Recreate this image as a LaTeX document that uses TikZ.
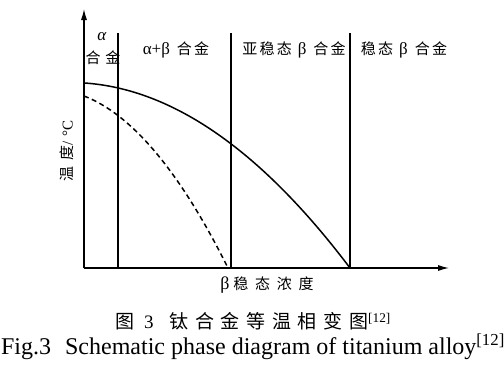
\documentclass[tikz,border=0pt]{standalone}
\usepackage{fontspec}
\setmainfont{Liberation Serif}
\newfontfamily\cjka{Noto Sans CJK SC}[LetterSpace=15]
\newfontfamily\cjkb{Noto Sans CJK SC}[LetterSpace=45]
\newfontfamily\cjkc{Noto Sans CJK SC}[LetterSpace=35]
\newcommand{\gk}[1]{{\fontsize{17}{19}\selectfont #1}}
\usetikzlibrary{arrows.meta}
\begin{document}
\begin{tikzpicture}[x=1pt,y=-1pt,
  ax/.style={line width=1.2pt,-{Latex[length=11pt,width=6pt]}},
  vline/.style={line width=1.5pt},
  curve/.style={line width=1.5pt},
  dcurve/.style={line width=1.5pt,dash pattern=on 5pt off 3.5pt},
  lab/.style={inner sep=0pt,font=\fontsize{15}{17}\selectfont},
  axlab/.style={inner sep=0pt,font=\fontsize{15}{17}\selectfont},
  zhcap/.style={inner sep=0pt,font=\fontsize{19}{22}\selectfont},
  encap/.style={inner sep=0pt,font=\fontsize{24}{28}\selectfont},
]
\useasboundingbox (0,0) rectangle (504,370);
% axes
\coordinate (O) at (84,268);
\coordinate (ytip) at (84,9);
\coordinate (xtip) at (449,268);
\draw[ax] (O) -- (ytip);
\draw[ax] (O) -- (xtip);
% vertical phase boundaries
\coordinate (v1t) at (118,33); \coordinate (v1b) at (118,268);
\coordinate (v2t) at (231,33); \coordinate (v2b) at (231,268);
\coordinate (v3t) at (350,33); \coordinate (v3b) at (350,268);
\draw[vline] (v1t) -- (v1b);
\draw[vline] (v2t) -- (v2b);
\draw[vline] (v3t) -- (v3b);
% beta transus (solid) and martensite start (dashed)
\draw[curve] plot[domain=84:350,samples=80] (\x,{268-185.5*(1-((\x-70)/280)^2)});
\draw[dcurve] plot[domain=84:228,samples=80] (\x,{268-178.5*(1-((\x-50)/178)^2)});
% region labels
\node[lab] (la1) at (102,37) {\gk{\textit{α}}};
\node[lab] (la2) at (103,58) {{\cjka 合}\hspace{5pt}{\cjka 金}};
\node[lab] (lab2) at (176,50) {\gk{α+β}\hspace{7pt}{\cjka 合金}};
\node[lab] (lab3) at (294,50) {{\cjka 亚稳态}\hspace{6pt}\gk{β}\hspace{7pt}{\cjka 合金}};
\node[lab] (lab4) at (404,50) {{\cjka 稳态}\hspace{6pt}\gk{β}\hspace{7pt}{\cjka 合金}};
% axis labels
\node[axlab,rotate=90] (ylab) at (67,151) {{\cjkb 温度}/\hspace{5pt}°C};
\node[axlab] (xlab) at (267,285) {{\fontsize{18}{20}\selectfont β}\hspace{4pt}{\cjkb 稳态浓度}};
% captions
\node[zhcap] (cap1) at (253,321) {{\cjkc 图}\hspace{10pt}3\hspace{16pt}{\cjkc 钛合金等温相变图}\textsuperscript{[12]}};
\node[encap] (cap2) at (253,347) {Fig.3\hspace{14pt}Schematic phase diagram of titanium alloy\textsuperscript{[12]}};
\end{tikzpicture}
\end{document}
